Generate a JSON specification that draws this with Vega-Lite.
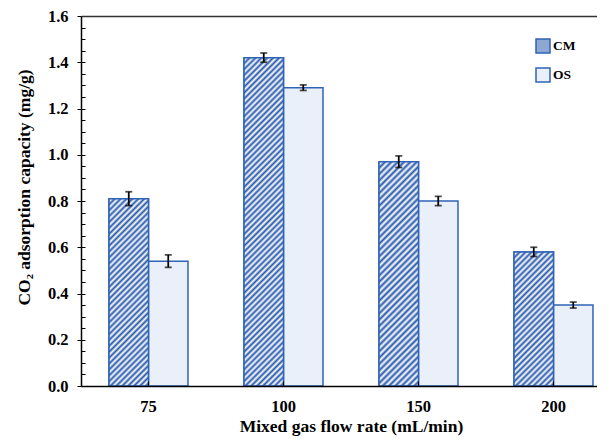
{
  "$schema": "https://vega.github.io/schema/vega-lite/v6.json",
  "width": 516,
  "height": 370,
  "autosize": "none",
  "padding": {"left": 81, "top": 16, "right": 0, "bottom": 50},
  "background": "white",
  "config": {
    "view": {"stroke": null},
    "font": "Liberation Serif",
    "axis": {"labelFont": "Liberation Serif", "titleFont": "Liberation Serif", "labelColor": "#000", "titleColor": "#000", "grid": false}
  },
  "data": {
    "values": [
      {"flow": "75", "series": "CM", "value": 0.81, "lo": 0.78, "hi": 0.84},
      {"flow": "75", "series": "OS", "value": 0.54, "lo": 0.513, "hi": 0.567},
      {"flow": "100", "series": "CM", "value": 1.42, "lo": 1.40, "hi": 1.44},
      {"flow": "100", "series": "OS", "value": 1.29, "lo": 1.278, "hi": 1.302},
      {"flow": "150", "series": "CM", "value": 0.97, "lo": 0.945, "hi": 0.995},
      {"flow": "150", "series": "OS", "value": 0.80, "lo": 0.78, "hi": 0.82},
      {"flow": "200", "series": "CM", "value": 0.58, "lo": 0.56, "hi": 0.60},
      {"flow": "200", "series": "OS", "value": 0.35, "lo": 0.337, "hi": 0.363}
    ]
  },
  "resolve": {"axis": {"x": "independent", "y": "independent"}},
  "layer": [
    {
      "mark": {"type": "bar", "stroke": "#2f63b5", "strokeWidth": 1.5},
      "encoding": {
        "x": {
          "field": "flow", "type": "ordinal", "sort": ["75", "100", "150", "200"],
          "scale": {"range": [0, 540], "paddingInner": 0.415, "paddingOuter": 0.2075},
          "axis": {
            "title": "Mixed gas flow rate (mL/min)", "labelAngle": 0,
            "labelFontWeight": "bold", "labelFontSize": 16.5, "labelPadding": 17,
            "titleFontSize": 17.5, "titleFontWeight": "bold", "titlePadding": 3,
            "domainColor": "#000", "domainWidth": 1.5, "tickColor": "#000", "tickSize": -5, "tickWidth": 1, "zindex": 1
          }
        },
        "xOffset": {"field": "series", "type": "nominal", "sort": ["CM", "OS"], "scale": {"paddingInner": 0, "paddingOuter": 0}},
        "y": {
          "field": "value", "type": "quantitative",
          "scale": {"domain": [0, 1.6], "nice": false},
          "axis": {
            "title": "CO₂ adsorption capacity (mg/g)",
            "values": [0, 0.05, 0.1, 0.15, 0.2, 0.25, 0.3, 0.35, 0.4, 0.45, 0.5, 0.55, 0.6, 0.65, 0.7, 0.75, 0.8, 0.85, 0.9, 0.95, 1.0, 1.05, 1.1, 1.15, 1.2, 1.25, 1.3, 1.35, 1.4, 1.45, 1.5, 1.55, 1.6],
            "labelExpr": "round(datum.value*20) % 4 == 0 ? format(datum.value, '.1f') : ''",
            "labelFontWeight": "bold", "labelFontSize": 16.5, "labelPadding": 9,
            "tickSize": {"condition": {"test": "round(datum.value*20) % 4 == 0", "value": 4}, "value": -4},
            "tickColor": "#000", "tickWidth": 1,
            "domainColor": "#000", "domainWidth": 1.5,
            "titleFontSize": 17.5, "titleFontWeight": "bold", "titleX": -57, "titleY": 171, "titleBaseline": "middle", "zindex": 1
          }
        },
        "color": {
          "field": "series", "type": "nominal",
          "scale": {"domain": ["CM", "OS"], "range": ["#8ea8d4", "#eaf0f9"]},
          "legend": {
            "orient": "none", "legendX": 454, "legendY": 22, "title": null, "padding": 0,
            "symbolType": "square", "symbolSize": 196, "symbolStrokeColor": "#2f63b5", "symbolStrokeWidth": 1.5,
            "labelFontSize": 13.5, "labelFontWeight": "bold", "labelFont": "Liberation Serif", "labelColor": "#000",
            "rowPadding": 9, "labelOffset": 2
          }
        }
      }
    },
    {
      "transform": [{"filter": "datum.series == 'CM' && datum.flow == '75'"}],
      "mark": {"type": "bar", "stroke": "#2f63b5", "strokeWidth": 1.5,
        "fill": {"gradient": "linear", "x1": 0, "y1": 0, "x2": 0.2444, "y2": 1.1593, "stops": [
          {"offset":0,"color":"#2858ad"},{"offset":0.013,"color":"#fff"},{"offset":0.026,"color":"#2858ad"},{"offset":0.039,"color":"#fff"},{"offset":0.052,"color":"#2858ad"},{"offset":0.065,"color":"#fff"},{"offset":0.078,"color":"#2858ad"},{"offset":0.091,"color":"#fff"},{"offset":0.104,"color":"#2858ad"},{"offset":0.117,"color":"#fff"},{"offset":0.13,"color":"#2858ad"},{"offset":0.143,"color":"#fff"},{"offset":0.156,"color":"#2858ad"},{"offset":0.169,"color":"#fff"},{"offset":0.182,"color":"#2858ad"},{"offset":0.195,"color":"#fff"},{"offset":0.208,"color":"#2858ad"},{"offset":0.221,"color":"#fff"},{"offset":0.234,"color":"#2858ad"},{"offset":0.247,"color":"#fff"},{"offset":0.26,"color":"#2858ad"},{"offset":0.273,"color":"#fff"},{"offset":0.286,"color":"#2858ad"},{"offset":0.299,"color":"#fff"},{"offset":0.312,"color":"#2858ad"},{"offset":0.325,"color":"#fff"},{"offset":0.338,"color":"#2858ad"},{"offset":0.351,"color":"#fff"},{"offset":0.364,"color":"#2858ad"},{"offset":0.377,"color":"#fff"},{"offset":0.39,"color":"#2858ad"},{"offset":0.403,"color":"#fff"},{"offset":0.416,"color":"#2858ad"},{"offset":0.429,"color":"#fff"},{"offset":0.442,"color":"#2858ad"},{"offset":0.455,"color":"#fff"},{"offset":0.468,"color":"#2858ad"},{"offset":0.481,"color":"#fff"},{"offset":0.494,"color":"#2858ad"},{"offset":0.507,"color":"#fff"},{"offset":0.52,"color":"#2858ad"},{"offset":0.533,"color":"#fff"},{"offset":0.546,"color":"#2858ad"},{"offset":0.559,"color":"#fff"},{"offset":0.572,"color":"#2858ad"},{"offset":0.585,"color":"#fff"},{"offset":0.598,"color":"#2858ad"},{"offset":0.611,"color":"#fff"},{"offset":0.624,"color":"#2858ad"},{"offset":0.637,"color":"#fff"},{"offset":0.65,"color":"#2858ad"},{"offset":0.663,"color":"#fff"},{"offset":0.676,"color":"#2858ad"},{"offset":0.689,"color":"#fff"},{"offset":0.702,"color":"#2858ad"},{"offset":0.715,"color":"#fff"},{"offset":0.728,"color":"#2858ad"},{"offset":0.741,"color":"#fff"},{"offset":0.754,"color":"#2858ad"},{"offset":0.767,"color":"#fff"},{"offset":0.78,"color":"#2858ad"},{"offset":0.793,"color":"#fff"},{"offset":0.806,"color":"#2858ad"},{"offset":0.819,"color":"#fff"},{"offset":0.832,"color":"#2858ad"},{"offset":0.845,"color":"#fff"},{"offset":0.858,"color":"#2858ad"},{"offset":0.871,"color":"#fff"},{"offset":0.884,"color":"#2858ad"},{"offset":0.897,"color":"#fff"},{"offset":0.91,"color":"#2858ad"},{"offset":0.923,"color":"#fff"},{"offset":0.936,"color":"#2858ad"},{"offset":0.949,"color":"#fff"},{"offset":0.962,"color":"#2858ad"},{"offset":0.975,"color":"#fff"},{"offset":0.988,"color":"#2858ad"},{"offset":1,"color":"#fff"}
        ]}},
      "encoding": {
        "x": {"field": "flow", "type": "ordinal", "sort": ["75", "100", "150", "200"], "axis": null},
        "xOffset": {"field": "series", "type": "nominal", "sort": ["CM", "OS"]},
        "y": {"field": "value", "type": "quantitative", "axis": null}
      }
    },
    {
      "transform": [{"filter": "datum.series == 'CM' && datum.flow == '100'"}],
      "mark": {"type": "bar", "stroke": "#2f63b5", "strokeWidth": 1.5,
        "fill": {"gradient": "linear", "x1": 0, "y1": 0, "x2": 0.1328, "y2": 1.1043, "stops": [
          {"offset":0,"color":"#2858ad"},{"offset":0.008,"color":"#fff"},{"offset":0.016,"color":"#2858ad"},{"offset":0.024,"color":"#fff"},{"offset":0.032,"color":"#2858ad"},{"offset":0.04,"color":"#fff"},{"offset":0.048,"color":"#2858ad"},{"offset":0.056,"color":"#fff"},{"offset":0.064,"color":"#2858ad"},{"offset":0.072,"color":"#fff"},{"offset":0.08,"color":"#2858ad"},{"offset":0.088,"color":"#fff"},{"offset":0.096,"color":"#2858ad"},{"offset":0.104,"color":"#fff"},{"offset":0.112,"color":"#2858ad"},{"offset":0.12,"color":"#fff"},{"offset":0.128,"color":"#2858ad"},{"offset":0.136,"color":"#fff"},{"offset":0.144,"color":"#2858ad"},{"offset":0.152,"color":"#fff"},{"offset":0.16,"color":"#2858ad"},{"offset":0.168,"color":"#fff"},{"offset":0.176,"color":"#2858ad"},{"offset":0.184,"color":"#fff"},{"offset":0.192,"color":"#2858ad"},{"offset":0.2,"color":"#fff"},{"offset":0.208,"color":"#2858ad"},{"offset":0.216,"color":"#fff"},{"offset":0.224,"color":"#2858ad"},{"offset":0.232,"color":"#fff"},{"offset":0.24,"color":"#2858ad"},{"offset":0.248,"color":"#fff"},{"offset":0.256,"color":"#2858ad"},{"offset":0.264,"color":"#fff"},{"offset":0.272,"color":"#2858ad"},{"offset":0.28,"color":"#fff"},{"offset":0.288,"color":"#2858ad"},{"offset":0.296,"color":"#fff"},{"offset":0.304,"color":"#2858ad"},{"offset":0.312,"color":"#fff"},{"offset":0.32,"color":"#2858ad"},{"offset":0.328,"color":"#fff"},{"offset":0.336,"color":"#2858ad"},{"offset":0.344,"color":"#fff"},{"offset":0.352,"color":"#2858ad"},{"offset":0.36,"color":"#fff"},{"offset":0.368,"color":"#2858ad"},{"offset":0.376,"color":"#fff"},{"offset":0.384,"color":"#2858ad"},{"offset":0.392,"color":"#fff"},{"offset":0.4,"color":"#2858ad"},{"offset":0.408,"color":"#fff"},{"offset":0.416,"color":"#2858ad"},{"offset":0.424,"color":"#fff"},{"offset":0.432,"color":"#2858ad"},{"offset":0.44,"color":"#fff"},{"offset":0.448,"color":"#2858ad"},{"offset":0.456,"color":"#fff"},{"offset":0.464,"color":"#2858ad"},{"offset":0.472,"color":"#fff"},{"offset":0.48,"color":"#2858ad"},{"offset":0.488,"color":"#fff"},{"offset":0.496,"color":"#2858ad"},{"offset":0.504,"color":"#fff"},{"offset":0.512,"color":"#2858ad"},{"offset":0.52,"color":"#fff"},{"offset":0.528,"color":"#2858ad"},{"offset":0.536,"color":"#fff"},{"offset":0.544,"color":"#2858ad"},{"offset":0.552,"color":"#fff"},{"offset":0.56,"color":"#2858ad"},{"offset":0.568,"color":"#fff"},{"offset":0.576,"color":"#2858ad"},{"offset":0.584,"color":"#fff"},{"offset":0.592,"color":"#2858ad"},{"offset":0.6,"color":"#fff"},{"offset":0.608,"color":"#2858ad"},{"offset":0.616,"color":"#fff"},{"offset":0.624,"color":"#2858ad"},{"offset":0.632,"color":"#fff"},{"offset":0.64,"color":"#2858ad"},{"offset":0.648,"color":"#fff"},{"offset":0.656,"color":"#2858ad"},{"offset":0.664,"color":"#fff"},{"offset":0.672,"color":"#2858ad"},{"offset":0.68,"color":"#fff"},{"offset":0.688,"color":"#2858ad"},{"offset":0.696,"color":"#fff"},{"offset":0.704,"color":"#2858ad"},{"offset":0.712,"color":"#fff"},{"offset":0.72,"color":"#2858ad"},{"offset":0.728,"color":"#fff"},{"offset":0.736,"color":"#2858ad"},{"offset":0.744,"color":"#fff"},{"offset":0.752,"color":"#2858ad"},{"offset":0.76,"color":"#fff"},{"offset":0.768,"color":"#2858ad"},{"offset":0.776,"color":"#fff"},{"offset":0.784,"color":"#2858ad"},{"offset":0.792,"color":"#fff"},{"offset":0.8,"color":"#2858ad"},{"offset":0.808,"color":"#fff"},{"offset":0.816,"color":"#2858ad"},{"offset":0.824,"color":"#fff"},{"offset":0.832,"color":"#2858ad"},{"offset":0.84,"color":"#fff"},{"offset":0.848,"color":"#2858ad"},{"offset":0.856,"color":"#fff"},{"offset":0.864,"color":"#2858ad"},{"offset":0.872,"color":"#fff"},{"offset":0.88,"color":"#2858ad"},{"offset":0.888,"color":"#fff"},{"offset":0.896,"color":"#2858ad"},{"offset":0.904,"color":"#fff"},{"offset":0.912,"color":"#2858ad"},{"offset":0.92,"color":"#fff"},{"offset":0.928,"color":"#2858ad"},{"offset":0.936,"color":"#fff"},{"offset":0.944,"color":"#2858ad"},{"offset":0.952,"color":"#fff"},{"offset":0.96,"color":"#2858ad"},{"offset":0.968,"color":"#fff"},{"offset":0.976,"color":"#2858ad"},{"offset":0.984,"color":"#fff"},{"offset":0.992,"color":"#2858ad"},{"offset":1,"color":"#fff"}
        ]}},
      "encoding": {
        "x": {"field": "flow", "type": "ordinal", "sort": ["75", "100", "150", "200"], "axis": null},
        "xOffset": {"field": "series", "type": "nominal", "sort": ["CM", "OS"]},
        "y": {"field": "value", "type": "quantitative", "axis": null}
      }
    },
    {
      "transform": [{"filter": "datum.series == 'CM' && datum.flow == '150'"}],
      "mark": {"type": "bar", "stroke": "#2f63b5", "strokeWidth": 1.5,
        "fill": {"gradient": "linear", "x1": 0, "y1": 0, "x2": 0.2008, "y2": 1.1407, "stops": [
          {"offset":0,"color":"#2858ad"},{"offset":0.012,"color":"#fff"},{"offset":0.024,"color":"#2858ad"},{"offset":0.036,"color":"#fff"},{"offset":0.048,"color":"#2858ad"},{"offset":0.06,"color":"#fff"},{"offset":0.072,"color":"#2858ad"},{"offset":0.084,"color":"#fff"},{"offset":0.096,"color":"#2858ad"},{"offset":0.108,"color":"#fff"},{"offset":0.12,"color":"#2858ad"},{"offset":0.132,"color":"#fff"},{"offset":0.144,"color":"#2858ad"},{"offset":0.156,"color":"#fff"},{"offset":0.168,"color":"#2858ad"},{"offset":0.18,"color":"#fff"},{"offset":0.192,"color":"#2858ad"},{"offset":0.204,"color":"#fff"},{"offset":0.216,"color":"#2858ad"},{"offset":0.228,"color":"#fff"},{"offset":0.24,"color":"#2858ad"},{"offset":0.252,"color":"#fff"},{"offset":0.264,"color":"#2858ad"},{"offset":0.276,"color":"#fff"},{"offset":0.288,"color":"#2858ad"},{"offset":0.3,"color":"#fff"},{"offset":0.312,"color":"#2858ad"},{"offset":0.324,"color":"#fff"},{"offset":0.336,"color":"#2858ad"},{"offset":0.348,"color":"#fff"},{"offset":0.36,"color":"#2858ad"},{"offset":0.372,"color":"#fff"},{"offset":0.384,"color":"#2858ad"},{"offset":0.396,"color":"#fff"},{"offset":0.408,"color":"#2858ad"},{"offset":0.42,"color":"#fff"},{"offset":0.432,"color":"#2858ad"},{"offset":0.444,"color":"#fff"},{"offset":0.456,"color":"#2858ad"},{"offset":0.468,"color":"#fff"},{"offset":0.48,"color":"#2858ad"},{"offset":0.492,"color":"#fff"},{"offset":0.504,"color":"#2858ad"},{"offset":0.516,"color":"#fff"},{"offset":0.528,"color":"#2858ad"},{"offset":0.54,"color":"#fff"},{"offset":0.552,"color":"#2858ad"},{"offset":0.564,"color":"#fff"},{"offset":0.576,"color":"#2858ad"},{"offset":0.588,"color":"#fff"},{"offset":0.6,"color":"#2858ad"},{"offset":0.612,"color":"#fff"},{"offset":0.624,"color":"#2858ad"},{"offset":0.636,"color":"#fff"},{"offset":0.648,"color":"#2858ad"},{"offset":0.66,"color":"#fff"},{"offset":0.672,"color":"#2858ad"},{"offset":0.684,"color":"#fff"},{"offset":0.696,"color":"#2858ad"},{"offset":0.708,"color":"#fff"},{"offset":0.72,"color":"#2858ad"},{"offset":0.732,"color":"#fff"},{"offset":0.744,"color":"#2858ad"},{"offset":0.756,"color":"#fff"},{"offset":0.768,"color":"#2858ad"},{"offset":0.78,"color":"#fff"},{"offset":0.792,"color":"#2858ad"},{"offset":0.804,"color":"#fff"},{"offset":0.816,"color":"#2858ad"},{"offset":0.828,"color":"#fff"},{"offset":0.84,"color":"#2858ad"},{"offset":0.852,"color":"#fff"},{"offset":0.864,"color":"#2858ad"},{"offset":0.876,"color":"#fff"},{"offset":0.888,"color":"#2858ad"},{"offset":0.9,"color":"#fff"},{"offset":0.912,"color":"#2858ad"},{"offset":0.924,"color":"#fff"},{"offset":0.936,"color":"#2858ad"},{"offset":0.948,"color":"#fff"},{"offset":0.96,"color":"#2858ad"},{"offset":0.972,"color":"#fff"},{"offset":0.984,"color":"#2858ad"},{"offset":0.996,"color":"#fff"},{"offset":1,"color":"#2858ad"}
        ]}},
      "encoding": {
        "x": {"field": "flow", "type": "ordinal", "sort": ["75", "100", "150", "200"], "axis": null},
        "xOffset": {"field": "series", "type": "nominal", "sort": ["CM", "OS"]},
        "y": {"field": "value", "type": "quantitative", "axis": null}
      }
    },
    {
      "transform": [{"filter": "datum.series == 'CM' && datum.flow == '200'"}],
      "mark": {"type": "bar", "stroke": "#2f63b5", "strokeWidth": 1.5,
        "fill": {"gradient": "linear", "x1": 0, "y1": 0, "x2": 0.3507, "y2": 1.1912, "stops": [
          {"offset":0,"color":"#2858ad"},{"offset":0.017,"color":"#fff"},{"offset":0.034,"color":"#2858ad"},{"offset":0.051,"color":"#fff"},{"offset":0.068,"color":"#2858ad"},{"offset":0.085,"color":"#fff"},{"offset":0.102,"color":"#2858ad"},{"offset":0.119,"color":"#fff"},{"offset":0.136,"color":"#2858ad"},{"offset":0.153,"color":"#fff"},{"offset":0.17,"color":"#2858ad"},{"offset":0.187,"color":"#fff"},{"offset":0.204,"color":"#2858ad"},{"offset":0.221,"color":"#fff"},{"offset":0.238,"color":"#2858ad"},{"offset":0.255,"color":"#fff"},{"offset":0.272,"color":"#2858ad"},{"offset":0.289,"color":"#fff"},{"offset":0.306,"color":"#2858ad"},{"offset":0.323,"color":"#fff"},{"offset":0.34,"color":"#2858ad"},{"offset":0.357,"color":"#fff"},{"offset":0.374,"color":"#2858ad"},{"offset":0.391,"color":"#fff"},{"offset":0.408,"color":"#2858ad"},{"offset":0.425,"color":"#fff"},{"offset":0.442,"color":"#2858ad"},{"offset":0.459,"color":"#fff"},{"offset":0.476,"color":"#2858ad"},{"offset":0.493,"color":"#fff"},{"offset":0.51,"color":"#2858ad"},{"offset":0.527,"color":"#fff"},{"offset":0.544,"color":"#2858ad"},{"offset":0.561,"color":"#fff"},{"offset":0.578,"color":"#2858ad"},{"offset":0.595,"color":"#fff"},{"offset":0.612,"color":"#2858ad"},{"offset":0.629,"color":"#fff"},{"offset":0.646,"color":"#2858ad"},{"offset":0.663,"color":"#fff"},{"offset":0.68,"color":"#2858ad"},{"offset":0.697,"color":"#fff"},{"offset":0.714,"color":"#2858ad"},{"offset":0.731,"color":"#fff"},{"offset":0.748,"color":"#2858ad"},{"offset":0.765,"color":"#fff"},{"offset":0.782,"color":"#2858ad"},{"offset":0.799,"color":"#fff"},{"offset":0.816,"color":"#2858ad"},{"offset":0.833,"color":"#fff"},{"offset":0.85,"color":"#2858ad"},{"offset":0.867,"color":"#fff"},{"offset":0.884,"color":"#2858ad"},{"offset":0.901,"color":"#fff"},{"offset":0.918,"color":"#2858ad"},{"offset":0.935,"color":"#fff"},{"offset":0.952,"color":"#2858ad"},{"offset":0.969,"color":"#fff"},{"offset":0.986,"color":"#2858ad"},{"offset":1,"color":"#fff"}
        ]}},
      "encoding": {
        "x": {"field": "flow", "type": "ordinal", "sort": ["75", "100", "150", "200"], "axis": null},
        "xOffset": {"field": "series", "type": "nominal", "sort": ["CM", "OS"]},
        "y": {"field": "value", "type": "quantitative", "axis": null}
      }
    },
    {
      "mark": {"type": "rule", "color": "#000", "strokeWidth": 1.75},
      "encoding": {
        "x": {
          "field": "flow", "type": "ordinal", "sort": ["75", "100", "150", "200"],
          "axis": {"orient": "top", "labels": false, "ticks": false, "title": null, "domainColor": "#333", "domainWidth": 1.5}
        },
        "xOffset": {"field": "series", "type": "nominal", "sort": ["CM", "OS"]},
        "y": {
          "field": "lo", "type": "quantitative",
          "axis": {
            "orient": "left", "labels": false, "domain": false, "title": null, "tickSize": -4, "tickColor": "#000", "tickWidth": 1,
            "values": [0.2, 0.4, 0.6, 0.8, 1.0, 1.2, 1.4]
          }
        },
        "y2": {"field": "hi"}
      }
    },
    {
      "mark": {"type": "tick", "orient": "horizontal", "size": 7, "thickness": 1.75, "color": "#000"},
      "encoding": {
        "x": {"field": "flow", "type": "ordinal", "sort": ["75", "100", "150", "200"], "axis": null},
        "xOffset": {"field": "series", "type": "nominal", "sort": ["CM", "OS"]},
        "y": {"field": "lo", "type": "quantitative", "axis": null}
      }
    },
    {
      "mark": {"type": "tick", "orient": "horizontal", "size": 7, "thickness": 1.75, "color": "#000"},
      "encoding": {
        "x": {"field": "flow", "type": "ordinal", "sort": ["75", "100", "150", "200"], "axis": null},
        "xOffset": {"field": "series", "type": "nominal", "sort": ["CM", "OS"]},
        "y": {"field": "hi", "type": "quantitative", "axis": null}
      }
    }
  ]
}
